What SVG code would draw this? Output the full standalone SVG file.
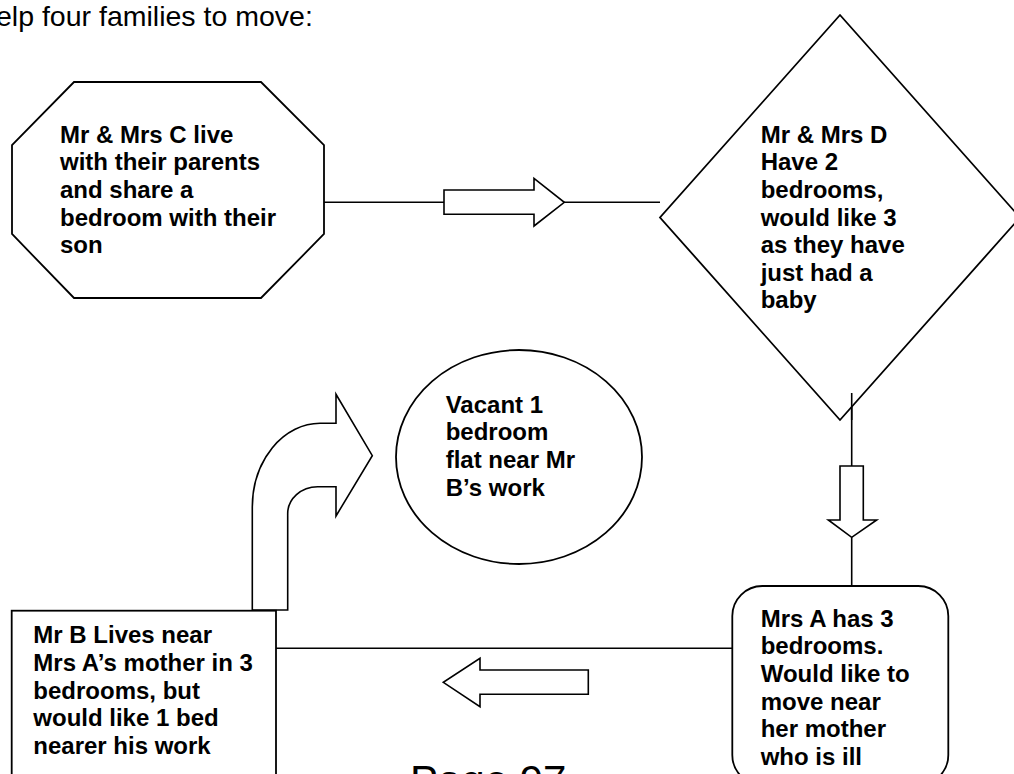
<svg xmlns="http://www.w3.org/2000/svg" width="1014" height="774" viewBox="0 0 1014 774">
<style>
.shape{fill:#fff;stroke:#000;stroke-width:1.8}
.line{fill:none;stroke:#000;stroke-width:1.6}
.arrow{fill:#fff;stroke:#000;stroke-width:1.6;stroke-linejoin:miter}
.t{font-family:"Liberation Sans",Arial,sans-serif;font-size:24px;font-weight:bold;fill:#000}
.plain{font-family:"Liberation Sans",Arial,sans-serif;fill:#000}
</style>
<rect width="1014" height="774" fill="#fff"/>
<text class="plain" x="-4" y="26" font-size="28.5">elp four families to move:</text>
<g id="connectors">
<line class="line" x1="324" y1="202.3" x2="444" y2="202.3"/>
<line class="line" x1="564" y1="202.3" x2="660" y2="202.3"/>
<polygon class="arrow" points="444,190 534,190 534,178.3 564.3,202.3 534,226 534,214.3 444,214.3"/>
<line class="line" x1="851.7" y1="393" x2="851.7" y2="466"/>
<line class="line" x1="851.7" y1="537.3" x2="851.7" y2="586"/>
<polygon class="arrow" points="840,466 863.3,466 863.3,520 876.7,520 851.7,537.3 828.3,520 840,520"/>
<line class="line" x1="276" y1="648.3" x2="732.3" y2="648.3"/>
<polygon class="arrow" points="588.3,670 480,670 480,658.3 443.3,682.3 480,706.7 480,694.3 588.3,694.3"/>
<path class="arrow" d="M252.3,610 L252.3,507 A68,84 0 0 1 320,423.3 L336,423.3 L336,394.3 L372.3,455.7 L336,516 L336,486.7 L318,486.7 A30,27 0 0 0 287.7,514 L287.7,610 Z"/>
</g>
<g id="node-c">
<polygon class="shape" points="74,82 261,82 324,145 324,234 261,298 74,298 12,234 12,145"/>
<text class="t" x="60" y="142.7">Mr &amp; Mrs C live</text>
<text class="t" x="60" y="170.3">with their parents</text>
<text class="t" x="60" y="197.9">and share a</text>
<text class="t" x="60" y="225.5">bedroom with their</text>
<text class="t" x="60" y="253.1">son</text>
</g>
<g id="node-d">
<polygon class="shape" points="840,15 1020,217.5 840,420 660,217.5"/>
<line class="line" x1="851.7" y1="393" x2="851.7" y2="420"/>
<text class="t" x="760.7" y="142.7">Mr &amp; Mrs D</text>
<text class="t" x="760.7" y="170.3">Have 2</text>
<text class="t" x="760.7" y="197.9">bedrooms,</text>
<text class="t" x="760.7" y="225.5">would like 3</text>
<text class="t" x="760.7" y="253.1">as they have</text>
<text class="t" x="760.7" y="280.7">just had a</text>
<text class="t" x="760.7" y="308.3">baby</text>
</g>
<g id="node-vacant">
<ellipse class="shape" cx="519" cy="457" rx="123" ry="107"/>
<text class="t" x="445.7" y="412.7">Vacant 1</text>
<text class="t" x="445.7" y="440.3">bedroom</text>
<text class="t" x="445.7" y="467.9">flat near Mr</text>
<text class="t" x="445.7" y="495.5">B’s work</text>
</g>
<g id="node-a">
<rect class="shape" x="732.3" y="586" width="216" height="199" rx="30" ry="30"/>
<text class="t" x="760.7" y="626.7">Mrs A has 3</text>
<text class="t" x="760.7" y="654.3">bedrooms.</text>
<text class="t" x="760.7" y="681.9">Would like to</text>
<text class="t" x="760.7" y="709.5">move near</text>
<text class="t" x="760.7" y="737.1">her mother</text>
<text class="t" x="760.7" y="764.7">who is ill</text>
</g>
<g id="node-b">
<rect class="shape" x="11.7" y="610.7" width="264.3" height="200"/>
<text class="t" x="33.3" y="643.3">Mr B Lives near</text>
<text class="t" x="33.3" y="670.9">Mrs A’s mother in 3</text>
<text class="t" x="33.3" y="698.5">bedrooms, but</text>
<text class="t" x="33.3" y="726.1">would like 1 bed</text>
<text class="t" x="33.3" y="753.7">nearer his work</text>
</g>
<text class="plain" x="410" y="795" font-size="42">Page 97</text>
</svg>
